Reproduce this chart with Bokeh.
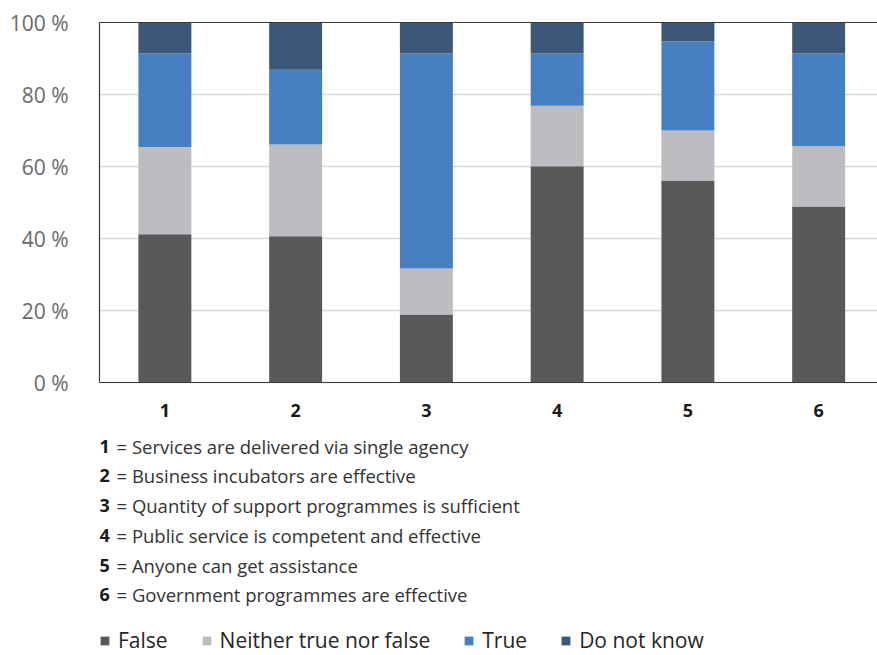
from bokeh.plotting import figure
from bokeh.models import (ColumnDataSource, FixedTicker, LinearAxis,
                          Legend, LegendItem, Range1d, Span)
from bokeh.core.properties import value
from bokeh.embed import file_html
from bokeh.resources import INLINE

categories = ["1", "2", "3", "4", "5", "6"]
series = ["False", "Neither true nor false", "True", "Do not know"]
false_vals = [41.2, 40.6, 18.9, 60.1, 56.1, 48.9]
neither_vals = [24.2, 25.5, 12.8, 16.8, 13.9, 16.7]
true_vals = [26.0, 20.8, 59.7, 14.5, 24.7, 25.8]
dunno_vals = [8.6, 13.1, 8.6, 8.6, 5.3, 8.6]
descriptions = [
    "Services are delivered via single agency",
    "Business incubators are effective",
    "Quantity of support programmes is sufficient",
    "Public service is competent and effective",
    "Anyone can get assistance",
    "Government programmes are effective",
]
y_ticks = [0, 20, 40, 60, 80, 100]
y_tick_labels = ["0 %", "20 %", "40 %", "60 %", "80 %", "100 %"]
colors = ["#58595b", "#bcbdc1", "#4680c2", "#3b5878"]

FONT = "Open Sans"
W, H = 877, 655
LEFT, TOP = 99, 22
PX_PER_PCT = 3.6
y_bottom = 100 - (H - TOP) / PX_PER_PCT

xs = list(range(1, len(categories) + 1))
source = ColumnDataSource(dict(x=xs, f=false_vals, n=neither_vals,
                               t=true_vals, d=dunno_vals))

p = figure(width=W, height=H, output_backend="svg", toolbar_location=None,
           x_range=Range1d(0.5, 6.45), y_range=Range1d(y_bottom, 100),
           min_border_left=LEFT, min_border_right=0, min_border_top=TOP,
           min_border_bottom=0)
p.outline_line_color = None
p.background_fill_color = "white"
p.border_fill_color = "white"

renderers = p.vbar_stack(["f", "n", "t", "d"], x="x", width=0.405, source=source,
                         color=colors, line_color=None)

# x axis drawn inside the frame (frame also holds the notes and legend)
p.xaxis.visible = False
p.add_layout(Span(location=0, dimension="width", line_color="#3a3a3a",
                  line_width=1.2))
xlab = ColumnDataSource(dict(x=xs, y=[0] * len(xs), text=categories))
p.text(x="x", y="y", text="text", source=xlab, y_offset=28,
       text_font=value(FONT), text_font_style="bold", text_font_size="18px",
       text_color="#1a1a1a", text_align="center", text_baseline="middle")

p.yaxis.ticker = FixedTicker(ticks=y_ticks)
p.yaxis.bounds = (0, 100)
p.yaxis.major_label_overrides = {t: l for t, l in zip(y_ticks, y_tick_labels)}
p.yaxis.major_label_text_font = FONT
p.yaxis.major_label_text_font_size = "21px"
p.yaxis.major_label_text_color = "#6a6a6a"
p.yaxis.major_label_standoff = 25
p.yaxis.major_tick_line_color = None
p.yaxis.minor_tick_line_color = None
p.yaxis.axis_line_color = "#3a3a3a"
p.yaxis.axis_line_width = 1.2

top_axis = LinearAxis(ticker=FixedTicker(ticks=[]), major_label_text_font_size="0px",
                      major_tick_line_color=None, minor_tick_line_color=None,
                      axis_line_color="#3a3a3a", axis_line_width=1.2)
p.add_layout(top_axis, "above")

p.xgrid.grid_line_color = None
p.ygrid.ticker = FixedTicker(ticks=y_ticks)
p.ygrid.grid_line_color = "#d9d9d9"
p.ygrid.grid_line_width = 1.5

# notes below the chart
line_offsets = [64, 93, 123, 153, 183, 212]
notes = ColumnDataSource(dict(x=[0.5] * len(categories), y=[0] * len(categories),
                              num=categories, desc=["= " + d for d in descriptions],
                              off=line_offsets))
p.text(x="x", y="y", text="num", source=notes, y_offset="off", x_offset=0,
       text_font=value(FONT), text_font_style="bold", text_font_size="18px",
       text_color="#1a1a1a", text_baseline="middle")
p.text(x="x", y="y", text="desc", source=notes, y_offset="off", x_offset=17,
       text_font=value(FONT), text_font_size="18.5px",
       text_color="#333333", text_baseline="middle")

legend = Legend(items=[LegendItem(label=s, renderers=[r]) for s, r in zip(series, renderers)],
                orientation="horizontal", location=(0, 1),
                glyph_width=11, glyph_height=11, label_standoff=8, spacing=33,
                label_text_font=FONT, label_text_font_size="21px",
                label_text_color="#262626", padding=0, margin=0,
                border_line_color=None, background_fill_alpha=0,
                label_height=20)
p.add_layout(legend)

open("out.html", "w").write(file_html(p, INLINE))
